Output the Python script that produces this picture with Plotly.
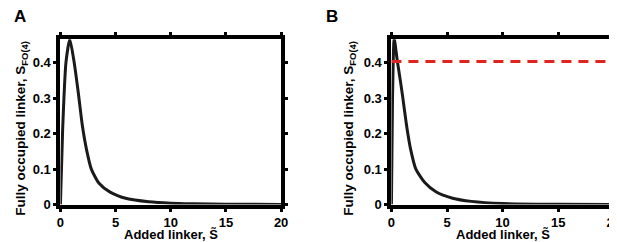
import plotly.graph_objects as go

# Panel A data
xa = [0, 0.2, 0.5, 0.85, 1.25, 1.6, 2.0, 2.4, 2.8, 3.5, 4.5, 6, 8, 10, 12, 15, 20]
ya = [0, 0.21, 0.40, 0.466, 0.40, 0.32, 0.22, 0.15, 0.10, 0.06, 0.035, 0.017, 0.008, 0.004, 0.0025, 0.0012, 0.0004]
# Panel B data
xb = [0, 0.1, 0.25, 0.53, 0.8, 1.03, 1.2, 1.4, 1.7, 2.2, 3.0, 4.0, 5.5, 7.2, 10, 15, 20]
yb = [0, 0.30, 0.468, 0.405, 0.35, 0.30, 0.26, 0.215, 0.16, 0.10, 0.062, 0.036, 0.018, 0.009, 0.003, 0.001, 0.0003]
threshold_b = 0.403

xticks = [0, 5, 10, 15, 20]
yticks = [0, 0.1, 0.2, 0.3, 0.4]
ytick_text = ["0", "0.1", "0.2", "0.3", "0.4"]
x_title = "Added linker, S̃"
y_title = "Fully occupied linker, S<sub>FO(4)</sub>"

FONT = "Liberation Sans, Arial, sans-serif"
W, H = 617, 242
fig = go.Figure()
fig.add_trace(go.Scatter(x=xa, y=ya, mode="lines", line=dict(color="#1a1a1a", width=3, shape="spline", smoothing=0.6),
                         xaxis="x", yaxis="y", showlegend=False))
fig.add_trace(go.Scatter(x=xb, y=yb, mode="lines", line=dict(color="#1a1a1a", width=3, shape="spline", smoothing=0.6),
                         xaxis="x2", yaxis="y2", showlegend=False))
fig.add_trace(go.Scatter(x=[0, 20], y=[threshold_b, threshold_b], mode="lines",
                         line=dict(color="#e0231f", width=3, dash="10px,7px"),
                         xaxis="x2", yaxis="y2", showlegend=False))

axis_common = dict(showline=True, linewidth=4, linecolor="black", mirror="ticks", ticks="outside",
                   ticklen=3, tickwidth=3, tickcolor="black", showgrid=False, zeroline=False,
                   tickfont=dict(family=FONT, size=13, color="black", weight="bold"))
ydom = [38.7 / H, 209.7 / H]
xdomA = [49.3 / W, 274 / W]
xdomB = [386.3 / W, 612.7 / W]


def ann(text, x, y, angle=0, size=14):
    return dict(text=text, x=x / W, y=1 - y / H, xref="paper", yref="paper", xanchor="center", yanchor="middle",
                textangle=angle, showarrow=False, font=dict(family=FONT, size=size, color="black", weight="bold"))


fig.update_layout(
    width=W, height=H, margin=dict(l=0, r=0, t=0, b=0),
    paper_bgcolor="white", plot_bgcolor="white",
    xaxis=dict(domain=xdomA, range=[0, 20], tickvals=xticks, anchor="y", **axis_common),
    yaxis=dict(domain=ydom, range=[0, 0.466], tickvals=yticks, ticktext=ytick_text, anchor="x", **axis_common),
    xaxis2=dict(domain=xdomB, range=[0, 20], tickvals=xticks, anchor="y2", **axis_common),
    yaxis2=dict(domain=ydom, range=[0, 0.466], tickvals=yticks, ticktext=ytick_text, anchor="x2", **axis_common),
    annotations=[
        ann("A", 8, 9, size=17),
        ann("B", 326, 9, size=17),
        ann(x_title, (49.3 + 274) / 2, 234, size=13),
        ann(x_title, (386.3 + 612.7) / 2, 234, size=13),
        ann(y_title, 10, 124, angle=-90, size=13.5),
        ann(y_title, 344, 124, angle=-90, size=13.5),
    ],
)
fig.write_html("out.html")
